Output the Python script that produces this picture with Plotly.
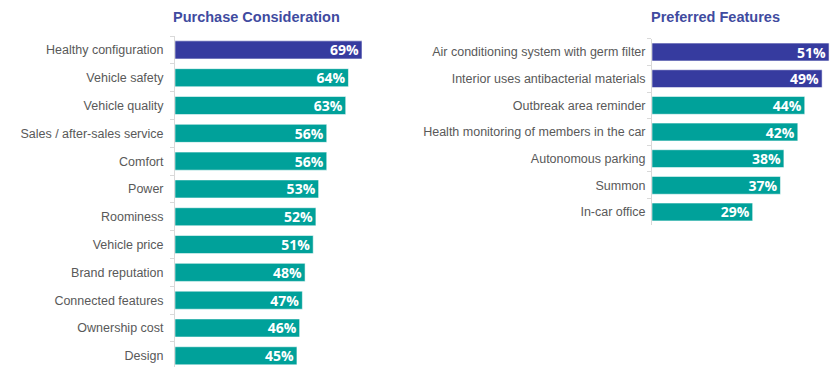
import plotly.graph_objects as go

W, H = 839, 367

# Purchase consideration factors (top to bottom)
purchase_labels = [
    "Healthy configuration", "Vehicle safety", "Vehicle quality",
    "Sales / after-sales service", "Comfort", "Power", "Roominess",
    "Vehicle price", "Brand reputation", "Connected features",
    "Ownership cost", "Design",
]
purchase_values = [69, 64, 63, 56, 56, 53, 52, 51, 48, 47, 46, 45]
purchase_highlight = [True] + [False] * 11

# Preferred features (top to bottom)
feature_labels = [
    "Air conditioning system with germ filter",
    "Interior uses antibacterial materials",
    "Outbreak area reminder",
    "Health monitoring of members in the car",
    "Autonomous parking", "Summon", "In-car office",
]
feature_values = [51, 49, 44, 42, 38, 37, 29]
feature_highlight = [True, True, False, False, False, False, False]

BLUE = "#363B9F"
TEAL = "#00A19A"
TITLE_COLOR = "#3F4BA0"
LABEL_COLOR = "#595959"
AXIS_COLOR = "#D9D9D9"


def px_x(p):
    return p / W


def px_y(p):
    return 1 - p / H


value_font = dict(family="Open Sans", size=14, color="white", weight="bold")

fig = go.Figure()

fig.add_trace(go.Bar(
    x=purchase_values, y=purchase_labels, orientation="h",
    marker=dict(color=[BLUE if h else TEAL for h in purchase_highlight],
                line=dict(color="rgba(255,255,255,0.55)", width=1)),
    width=0.65,
    text=[f"{v}%" for v in purchase_values],
    textposition="inside", insidetextanchor="end", textangle=0,
    constraintext="none", textfont=value_font,
    xaxis="x", yaxis="y", hoverinfo="skip",
))

fig.add_trace(go.Bar(
    x=feature_values, y=feature_labels, orientation="h",
    marker=dict(color=[BLUE if h else TEAL for h in feature_highlight],
                line=dict(color="rgba(255,255,255,0.55)", width=1)),
    width=0.67,
    text=[f"{v}%" for v in feature_values],
    textposition="inside", insidetextanchor="end", textangle=0,
    constraintext="none", textfont=value_font,
    xaxis="x2", yaxis="y2", hoverinfo="skip",
))

tickfont = dict(family="Liberation Sans, Arial", size=12.5, color=LABEL_COLOR)

# Left panel: 2.71 px per percentage point starting at x=175
fig.update_layout(
    xaxis=dict(domain=[px_x(175), px_x(446)], range=[0, 100], visible=False,
               anchor="y"),
    yaxis=dict(domain=[0, px_y(36)], range=[(367 - 50) / 27.8, -0.5],
               type="category", categoryorder="array",
               categoryarray=purchase_labels, anchor="x",
               showline=True, linecolor=AXIS_COLOR, linewidth=1,
               ticks="outside", tickson="boundaries", ticklen=4,
               tickcolor=AXIS_COLOR, ticklabelstandoff=8,
               tickfont=tickfont, showgrid=False, zeroline=False),
    xaxis2=dict(domain=[px_x(652), px_x(836)], range=[0, 53], visible=False,
                anchor="y2"),
    yaxis2=dict(domain=[px_y(225.3), px_y(38.7)], range=[6.5, -0.5],
                type="category", categoryorder="array",
                categoryarray=feature_labels, anchor="x2",
                showline=True, linecolor=AXIS_COLOR, linewidth=1,
                ticks="outside", tickson="boundaries", ticklen=4,
                tickcolor=AXIS_COLOR, ticklabelstandoff=3,
                tickfont=tickfont, showgrid=False, zeroline=False),
)

title_font = dict(family="Liberation Sans, Arial", size=14.5,
                  color=TITLE_COLOR, weight="bold")
fig.add_annotation(text="Purchase Consideration", x=px_x(256), y=px_y(17),
                   xref="paper", yref="paper", showarrow=False,
                   xanchor="center", yanchor="middle", font=title_font)
fig.add_annotation(text="Preferred Features", x=px_x(715), y=px_y(17),
                   xref="paper", yref="paper", showarrow=False,
                   xanchor="center", yanchor="middle", font=title_font)

fig.update_layout(
    width=W, height=H,
    margin=dict(l=0, r=0, t=0, b=0),
    paper_bgcolor="white", plot_bgcolor="white",
    showlegend=False, bargap=0.35,
)

fig.write_html("out.html", include_plotlyjs=True)
